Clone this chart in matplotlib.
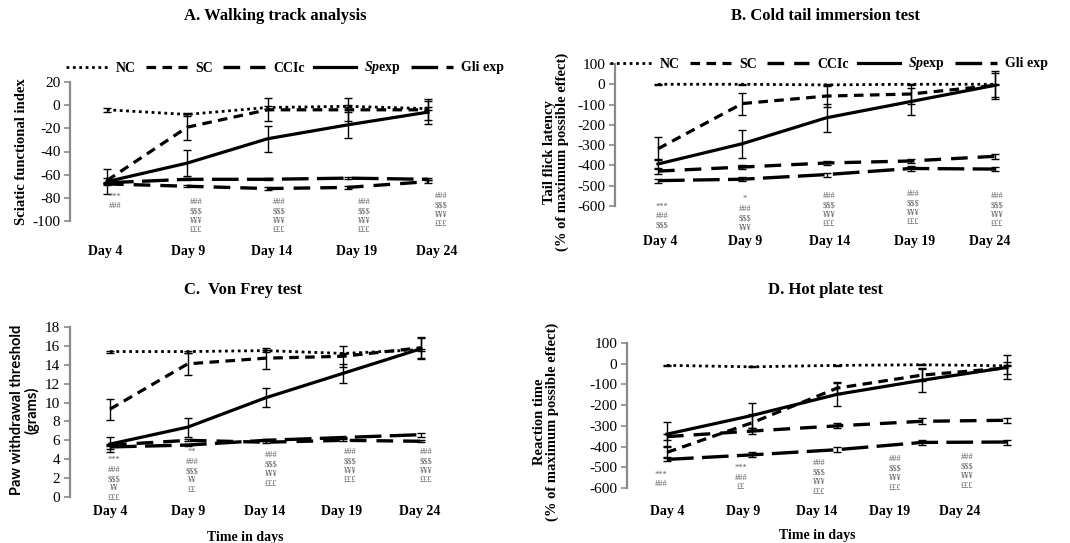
import matplotlib
matplotlib.use("Agg")
import matplotlib.pyplot as plt

plt.rcParams['font.family'] = ['Liberation Serif', 'DejaVu Serif']
plt.rcParams['mathtext.fontset'] = 'custom'
plt.rcParams['mathtext.it'] = 'Liberation Serif:italic:bold'
plt.rcParams['mathtext.rm'] = 'Liberation Serif:bold'
plt.rcParams['axes.unicode_minus'] = False

# ---------------- data ----------------
days = ["Day 4", "Day 9", "Day 14", "Day 19", "Day 24"]
series = ["NC", "SC", "CCIc", "$\\mathit{Sp}$exp", "Gli exp"]

# A. Walking track analysis (Sciatic functional index)
nc_a = [-4, -8, -2, -1, -3]
sc_a = [-65, -19, -4, -4, -4]
cci_a = [-68, -70, -72, -71, -66]
sp_a = [-66, -50, -29, -17, -6]
gli_a = [-67, -64, -64, -63, -64]
nc_a_err = [1.5, 1, 1, 1, 1]
sc_a_err = [2, 11, 10, 10, 9]
cci_a_err = [1, 1, 1.5, 1, 1]
sp_a_err = [11, 11, 11, 11, 10]
gli_a_err = [1, 1, 1, 1, 1]
ann_a = ["***\n###", "###\n$$$\n¥¥¥\n£££", "###\n$$$\n¥¥¥\n£££",
         "###\n$$$\n¥¥¥\n£££", "###\n$$$\n¥¥¥\n£££"]

# B. Cold tail immersion test
nc_b = [0, 0, -3, 0, 0]
sc_b = [-318, -95, -58, -48, -5]
cci_b = [-428, -408, -388, -378, -355]
sp_b = [-393, -293, -165, -85, -5]
gli_b = [-475, -468, -445, -415, -418]
nc_b_err = [3, 3, 3, 3, 3]
sc_b_err = [57, 54, 55, 50, 60]
cci_b_err = [15, 12, 12, 12, 12]
sp_b_err = [25, 68, 70, 65, 70]
gli_b_err = [10, 10, 10, 12, 10]
ann_b = ["***\n###\n$$$", "*\n###\n$$$\n¥¥¥", "###\n$$$\n¥¥¥\n£££",
         "###\n$$$\n¥¥¥\n£££", "###\n$$$\n¥¥¥\n£££"]

# C. Von Frey test
nc_c = [15.4, 15.4, 15.5, 15.2, 15.6]
sc_c = [9.3, 14.1, 14.7, 14.9, 15.8]
cci_c = [5.5, 6.0, 5.8, 6.0, 5.9]
sp_c = [5.6, 7.4, 10.5, 13.1, 15.7]
gli_c = [5.3, 5.5, 6.0, 6.3, 6.6]
nc_c_err = [0.1, 0.1, 0.1, 0.1, 0.1]
sc_c_err = [1.1, 1.2, 1.1, 1.1, 1.1]
cci_c_err = [0.1, 0.1, 0.1, 0.1, 0.1]
sp_c_err = [0.8, 1.0, 1.0, 1.0, 1.1]
gli_c_err = [0.2, 0.1, 0.1, 0.1, 0.2]
ann_c = ["***\n###\n$$$\n¥¥\n£££", "**\n###\n$$$\n¥¥\n££", "###\n$$$\n¥¥¥\n£££",
         "###\n$$$\n¥¥¥\n£££", "###\n$$$\n¥¥¥\n£££"]

# D. Hot plate test
nc_d = [-8, -15, -8, -5, -10]
sc_d = [-428, -285, -118, -55, -20]
cci_d = [-352, -325, -300, -278, -273]
sp_d = [-340, -250, -148, -80, -18]
gli_d = [-462, -440, -415, -380, -378]
nc_d_err = [3, 3, 3, 3, 3]
sc_d_err = [25, 40, 30, 30, 30]
cci_d_err = [15, 15, 12, 15, 12]
sp_d_err = [57, 60, 57, 58, 58]
gli_d_err = [10, 12, 12, 12, 12]
ann_d = ["***\n###", "***\n###\n££", "###\n$$$\n¥¥¥\n£££",
         "###\n$$$\n¥¥¥\n£££", "###\n$$$\n¥¥¥\n£££"]

# ---------------- styles ----------------
styles = [
    dict(ls=(0, (1, 1.3)), lw=2.0),      # NC dotted
    dict(ls=(0, (3, 2)), lw=2.3),        # SC short dash
    dict(ls=(0, (5, 3)), lw=2.4),        # CCIc medium dash
    dict(ls='-', lw=2.3),                # Sp exp solid
    dict(ls=(0, (8, 2.5)), lw=2.4),      # Gli exp long dash
]

W, H = 1070, 543
fig = plt.figure(figsize=(W / 100, H / 100), dpi=100)
AX_GRAY = '#8a8a8a'
ANN_GRAY = '#606060'


def panel(box, ylim, yticks, x0, sp, vals, errs, lab_px, lab_pad, ann, ann_px, ann_py,
          title, title_xy, ylabel, ylabel_xy, yfont=None, xlabel=None, xlabel_xy=None):
    left, right, top, bottom = box
    ax = fig.add_axes([left / W, 1 - bottom / H, (right - left) / W, (bottom - top) / H])
    ax.set_facecolor('none')
    x = list(range(len(days)))
    for v, e, st in zip(vals, errs, styles):
        ax.errorbar(x, v, yerr=e, color='black', ecolor='black', elinewidth=1.0,
                    capsize=3, capthick=1.0, linestyle=st['ls'], lw=st['lw'],
                    dash_capstyle='butt', clip_on=False)
    ax.set_xlim((left - x0) / sp, (right - x0) / sp)
    ax.set_ylim(*ylim)
    ax.set_yticks(yticks)
    ax.set_yticklabels([str(t) for t in yticks], fontsize=11)
    ax.set_xticks([(p - x0) / sp for p in lab_px])
    ax.set_xticklabels(days, fontsize=10, fontweight='bold')
    ax.tick_params(axis='x', length=0, pad=lab_pad)
    ax.tick_params(axis='y', length=4, width=1.2, color=AX_GRAY, direction='out', pad=3)
    for s in ['top', 'right', 'bottom']:
        ax.spines[s].set_visible(False)
    ax.spines['left'].set_color(AX_GRAY)
    ax.spines['left'].set_linewidth(1.6)
    for txt, px, py in zip(ann, ann_px, ann_py):
        fig.text(px / W, 1 - py / H, txt, fontsize=6, color=ANN_GRAY, ha='center',
                 va='top', linespacing=1.25, parse_math=False)
    fig.text(title_xy[0] / W, 1 - title_xy[1] / H, title, fontsize=12,
             fontweight='bold', ha='center', va='center')
    fkw = dict(fontsize=10.5, fontweight='bold', rotation=90, ha='center', va='center',
               linespacing=1.0)
    if yfont:
        fkw['family'] = yfont
    fig.text(ylabel_xy[0] / W, 1 - ylabel_xy[1] / H, ylabel, **fkw)
    if xlabel:
        fig.text(xlabel_xy[0] / W, 1 - xlabel_xy[1] / H, xlabel, fontsize=10,
                 fontweight='bold', ha='center', va='center')
    return ax


axA = panel((70, 470, 82, 221), (-100, 20), list(range(-100, 21, 20)), 107, 80.25,
            [nc_a, sc_a, cci_a, sp_a, gli_a],
            [nc_a_err, sc_a_err, cci_a_err, sp_a_err, gli_a_err],
            [105, 188, 272, 357, 437], 17, ann_a,
            [115, 196, 279, 364, 441], [193, 198, 198, 198, 192],
            "A. Walking track analysis", (275, 16),
            "Sciatic functional index", (22, 152))

axB = panel((615, 1040, 64, 206), (-600, 100), list(range(-600, 101, 100)), 658, 84.25,
            [nc_b, sc_b, cci_b, sp_b, gli_b],
            [nc_b_err, sc_b_err, cci_b_err, sp_b_err, gli_b_err],
            [660, 745, 830, 915, 990], 21, ann_b,
            [662, 745, 829, 913, 997], [203, 195, 192, 190, 192],
            "B. Cold tail immersion test", (825, 16),
            "Tail flick latency\n(% of maximum possible effect)", (556, 152))

axC = panel((70, 470, 327, 497), (0, 18), list(range(0, 19, 2)), 110, 77.75,
            [nc_c, sc_c, cci_c, sp_c, gli_c],
            [nc_c_err, sc_c_err, cci_c_err, sp_c_err, gli_c_err],
            [110, 188, 265, 342, 420], 6, ann_c,
            [114, 192, 271, 350, 426], [456, 448, 451, 448, 448],
            "C.  Von Frey test", (243, 290),
            "Paw withdrawal threshold\n(grams)", (25, 410), yfont='Lato',
            xlabel="Time in days", xlabel_xy=(245, 537))

axD = panel((627, 1040, 343, 488), (-600, 100), list(range(-600, 101, 100)), 667, 85,
            [nc_d, sc_d, cci_d, sp_d, gli_d],
            [nc_d_err, sc_d_err, cci_d_err, sp_d_err, gli_d_err],
            [667, 743, 817, 890, 960], 12, ann_d,
            [661, 741, 819, 895, 967], [471, 464, 459, 455, 453],
            "D. Hot plate test", (825, 290),
            "Reaction time\n(% of maximum possible effect)", (546, 422),
            xlabel="Time in days", xlabel_xy=(817, 535))

# legends
for ax, cx, cy in [(axA, 285, 68), (axB, 829, 64)]:
    handles = [plt.Line2D([], [], color='black', linestyle=st['ls'], lw=st['lw'],
                          dash_capstyle='butt') for st in styles]
    ax.legend(handles, series, ncol=5, loc='center', frameon=False,
              bbox_to_anchor=(cx / W, 1 - cy / H), bbox_transform=fig.transFigure,
              prop=dict(family='Liberation Serif', weight='bold', size=10),
              handlelength=3.0, handletextpad=0.6, columnspacing=0.7, borderpad=0)

fig.savefig("out.png", dpi=100)
